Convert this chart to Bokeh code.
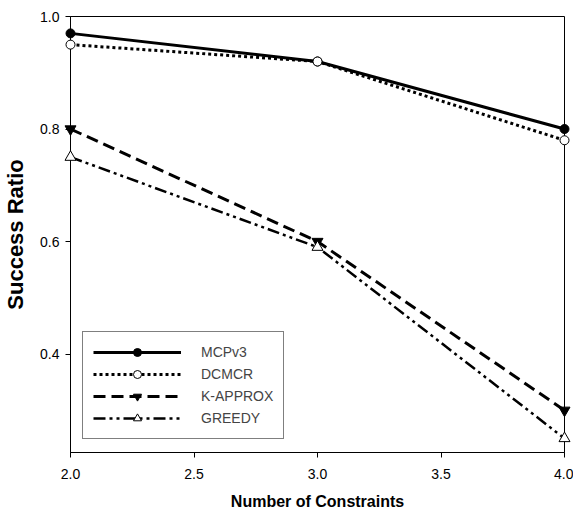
from bokeh.plotting import figure
from bokeh.models import FixedTicker, PrintfTickFormatter, Range1d, Legend, LegendItem
from bokeh.embed import file_html
from bokeh.resources import INLINE

x_vals = [2.0, 3.0, 4.0]
mcpv3 = [0.97, 0.92, 0.80]
dcmcr = [0.95, 0.92, 0.78]
k_approx = [0.80, 0.60, 0.30]
greedy = [0.75, 0.59, 0.25]
x_ticks = [2.0, 2.5, 3.0, 3.5, 4.0]
y_ticks = [0.4, 0.6, 0.8, 1.0]

FONT = "Liberation Sans"

p = figure(width=573, height=514, output_backend="svg", toolbar_location=None,
           x_range=Range1d(2.0, 4.0), y_range=Range1d(0.225, 1.0),
           min_border_left=70, min_border_right=9, min_border_top=16, min_border_bottom=62)
p.xgrid.visible = False
p.ygrid.visible = False
p.outline_line_color = "black"
p.outline_line_width = 1
p.background_fill_color = "white"
p.border_fill_color = "white"

for ax in (p.xaxis[0], p.yaxis[0]):
    ax.axis_line_color = "black"
    ax.major_tick_line_color = "black"
    ax.major_tick_in = 0
    ax.major_tick_out = 5
    ax.minor_tick_line_color = None
    ax.major_label_text_font = FONT
    ax.major_label_text_font_size = "14px"
    ax.major_label_text_color = "black"
    ax.axis_label_text_font = FONT
    ax.axis_label_text_font_style = "bold"
    ax.axis_label_text_color = "black"

p.xaxis.ticker = FixedTicker(ticks=x_ticks)
p.yaxis.ticker = FixedTicker(ticks=y_ticks)
p.xaxis.formatter = PrintfTickFormatter(format="%.1f")
p.yaxis.formatter = PrintfTickFormatter(format="%.1f")
p.xaxis.axis_label = "Number of Constraints"
p.xaxis.axis_label_text_font_size = "16px"
p.xaxis.major_label_standoff = 11
p.xaxis.axis_label_standoff = 11
p.yaxis.axis_label = "Success Ratio"
p.yaxis.axis_label_text_font_size = "22px"
p.yaxis.major_label_standoff = 6
p.yaxis.axis_label_standoff = 9

r1l = p.line(x_vals, mcpv3, line_color="black", line_width=3)
r1m = p.scatter(x_vals, mcpv3, marker="circle", size=9, fill_color="black", line_color="black", level="overlay")
r2l = p.line(x_vals, dcmcr, line_color="black", line_width=3, line_dash="3 3")
r2m = p.scatter(x_vals, dcmcr, marker="circle", size=9, fill_color="white", line_color="black", line_width=1, level="overlay")
r3l = p.line(x_vals, k_approx, line_color="black", line_width=3, line_dash="12 6")
r3m = p.scatter(x_vals, k_approx, marker="inverted_triangle", size=11, fill_color="black", line_color="black", level="overlay")
r4l = p.line(x_vals, greedy, line_color="black", line_width=2.5, line_dash="12 4 3 4 3 4")
r4m = p.scatter(x_vals, greedy, marker="triangle", size=11, fill_color="white", line_color="black", line_width=1, level="overlay")

legend = Legend(items=[
    LegendItem(label="MCPv3", renderers=[r1l, r1m]),
    LegendItem(label="DCMCR", renderers=[r2l, r2m]),
    LegendItem(label="K-APPROX", renderers=[r3l, r3m]),
    LegendItem(label="GREEDY", renderers=[r4l, r4m]),
], location=(12, 13))
legend.glyph_width = 88
legend.glyph_height = 20
legend.label_height = 20
legend.spacing = 2
legend.padding = 10
legend.margin = 0
legend.label_standoff = 20
legend.label_text_font = FONT
legend.label_text_font_size = "14px"
legend.border_line_color = "black"
legend.border_line_width = 1
legend.background_fill_alpha = 1.0
p.add_layout(legend, "center")

open("out.html", "w").write(file_html(p, INLINE))
